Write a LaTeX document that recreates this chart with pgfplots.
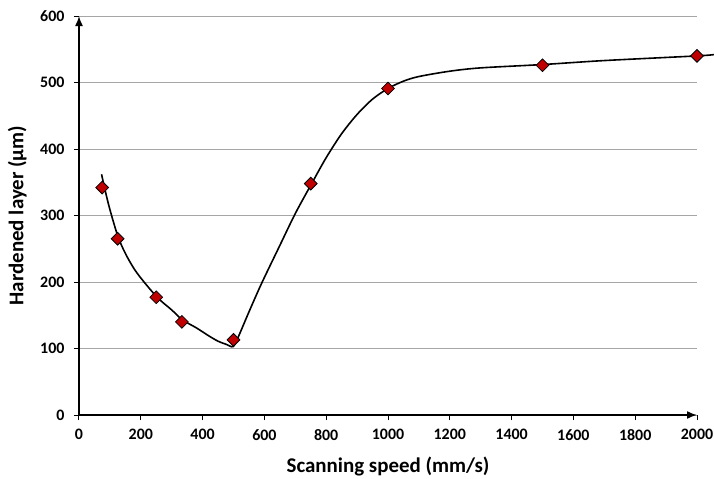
\documentclass[border=0pt]{standalone}
\usepackage{fontspec}
\setmainfont{Carlito}
\usepackage{pgfplots}
\pgfplotsset{compat=1.18}
\usetikzlibrary{arrows.meta}
\definecolor{markred}{HTML}{C00000}
\definecolor{gridgrey}{HTML}{A6A6A6}

\begin{document}
\begin{tikzpicture}
\useasboundingbox (-79bp,-64bp) rectangle (635bp,415bp);
\begin{axis}[
  at={(0,0)}, anchor=south west,
  scale only axis, width=618bp, height=399bp,
  xmin=0, xmax=2000, ymin=0, ymax=600,
  axis lines=left,
  axis line style={line width=1.5bp, -{Latex[length=10bp,width=8bp]}},
  xtick={0,200,...,2000}, ytick={0,100,...,600},
  tick align=outside, major tick length=5bp,
  tick style={black, line width=1bp},
  ymajorgrids, grid style={gridgrey, line width=0.9bp},
  ticklabel style={font=\fontsize{16}{18}\selectfont\bfseries},
  xticklabel style={yshift=-6bp},
  yticklabel style={xshift=-6bp},
  /pgf/number format/assume math mode=true,
  /pgf/number format/1000 sep={},
  xlabel={Scanning speed (mm/s)},
  ylabel={Hardened layer (µm)},
  label style={font=\fontsize{21}{24}\selectfont\bfseries, inner sep=0pt},
  xlabel style={at={(axis description cs:0.5,-0.128)}, anchor=center},
  ylabel style={at={(axis description cs:-0.1,0.5)}, anchor=center},
  clip=false,
]
% fitted trend curve
\addplot[black, line width=1.6bp, smooth, tension=0.5, mark=none] coordinates {
  (73,362) (85,337) (100,309) (125,270) (150,243) (187,214) (251,178)
  (300,158) (335,143) (380,131) (420,119) (450,111) (478,106) (499,103)
  (516,118) (550,155) (591,198) (650,255) (700,303) (753,348) (800,387)
  (850,423) (900,452) (950,475) (1000,491) (1050,502) (1100,509)
  (1200,517) (1300,522) (1500,527) (1700,533) (2000,540) (2055,542)
};
% measured values
\addplot[only marks, mark=square*, mark size=4.5bp,
  mark options={rotate=45, fill=markred, draw=black, line width=0.8bp}] coordinates {
  (75,342) (125,265) (250,177) (333,140) (500,113)
  (750,348) (1000,491) (1500,526) (2000,540)
};
\end{axis}
\end{tikzpicture}
\end{document}
